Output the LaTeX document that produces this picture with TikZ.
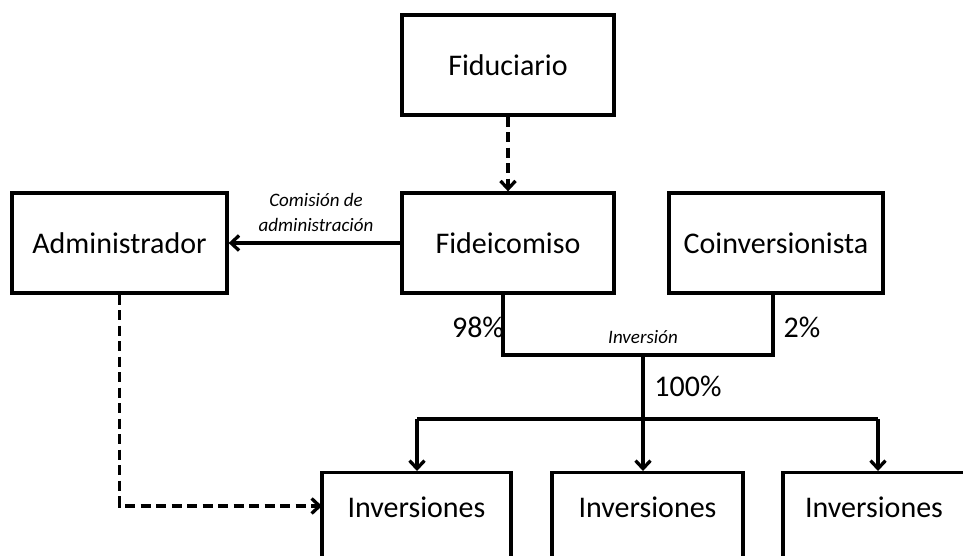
\documentclass[tikz,border=0pt]{standalone}
\usepackage{fontspec}
\setmainfont{Carlito}
\usetikzlibrary{arrows.meta}
\begin{document}
\begin{tikzpicture}[x=1pt,y=-1pt,
  box/.style={draw, line width=3.3pt, rectangle, inner sep=0pt, font=\fontsize{30}{35}\selectfont},
  lbl/.style={inner sep=0pt, font=\fontsize{30}{35}\selectfont},
  ilbl/.style={inner sep=0pt, align=center, font=\fontsize{19}{25}\selectfont\itshape},
  conn/.style={line width=3.3pt},
  arr/.style={line width=3.3pt, -{Straight Barb[length=8pt,width=15pt]}},
  dsh/.style={dash pattern=on 10pt off 5.5pt}]
\useasboundingbox (0,0) rectangle (963,555);
\begin{scope}
\clip (0,0) rectangle (963,555);
% boxes
\node[box, minimum width=212pt, minimum height=100pt] (fid) at (508,65) {Fiduciario};
\node[box, minimum width=212pt, minimum height=100pt] (fidei) at (508,243) {Fideicomiso};
\node[box, minimum width=214pt, minimum height=100pt] (coin) at (776,243) {Coinversionista};
\node[box, minimum width=215pt, minimum height=100pt] (adm) at (119.5,243) {Administrador};
\node[box, minimum width=189pt, minimum height=160pt, anchor=north] (i1) at (416.5,471) {};
\node[box, minimum width=191pt, minimum height=160pt, anchor=north] (i2) at (647.5,471) {};
\node[box, minimum width=182pt, minimum height=160pt, anchor=north] (i3) at (874,471) {};
\node[lbl] (i1t) at (416.5,507) {Inversiones};
\node[lbl] (i2t) at (647.5,507) {Inversiones};
\node[lbl] (i3t) at (874,507) {Inversiones};
% coordinates
\coordinate (fb) at (503,293);
\coordinate (cb) at (773,293);
\coordinate (jn) at (643,355);
\coordinate (br) at (643,419);
\coordinate (b1) at (417,419);
\coordinate (b3) at (878,419);
\coordinate (dj) at (322,506);
% connectors
\draw[arr, dsh] (fid.south) -- (fidei.north);
\draw[arr] (fidei.west) -- (adm.east);
\draw[conn] (fb) |- (jn) -| (cb);
\draw[conn] (jn) -- (br);
\draw[conn] (b1) -- (b3);
\draw[arr] (b1) -- (b1 |- i1.north);
\draw[arr] (br) -- (br |- i2.north);
\draw[arr] (b3) -- (b3 |- i3.north);
\draw[arr, dsh] (adm.south) |- (dj);
% labels
\node[ilbl] (com) at (316,212) {Comisión de\\administración};
\node[lbl] (p98) at (478,327) {98\%};
\node[lbl] (p2) at (802,327) {2\%};
\node[ilbl] (inv) at (643,337) {Inversión};
\node[lbl] (p100) at (688,386) {100\%};
\end{scope}
\end{tikzpicture}
\end{document}
